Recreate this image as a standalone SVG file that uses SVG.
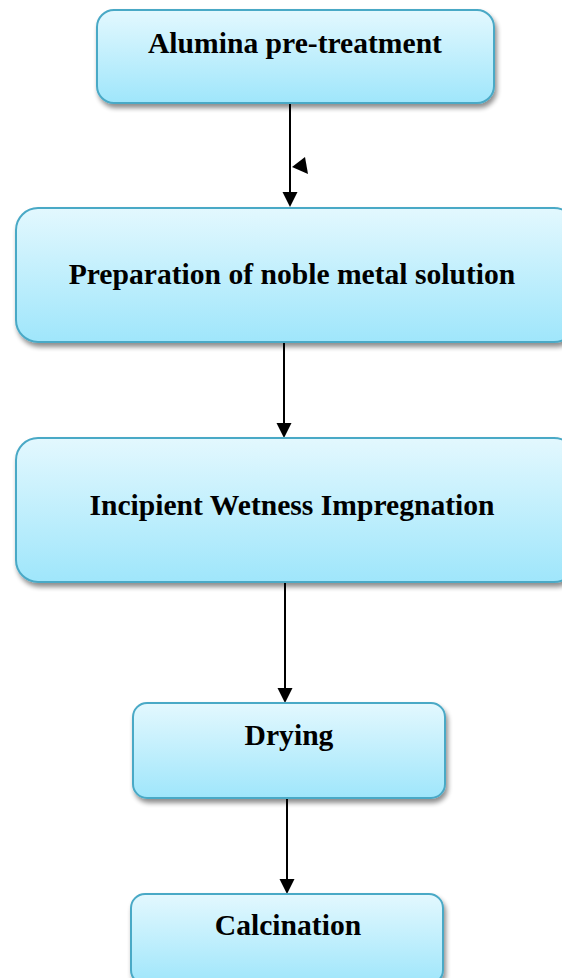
<svg xmlns="http://www.w3.org/2000/svg" width="562" height="978" viewBox="0 0 562 978">
<defs>
<linearGradient id="g" x1="0" y1="0" x2="0" y2="1">
<stop offset="0" stop-color="#e3f8fe"/>
<stop offset="1" stop-color="#9fe6fb"/>
</linearGradient>
<filter id="sh" x="-10%" y="-10%" width="125%" height="135%">
<feGaussianBlur in="SourceAlpha" stdDeviation="2.5"/>
<feOffset dx="2" dy="4" result="b"/>
<feComponentTransfer><feFuncA type="linear" slope="0.45"/></feComponentTransfer>
<feMerge><feMergeNode/><feMergeNode in="SourceGraphic"/></feMerge>
</filter>
<style>
.box{fill:url(#g);stroke:#4aa9c6;stroke-width:2;filter:url(#sh)}
.t{font-family:"Liberation Serif","Times New Roman",serif;font-weight:bold;font-size:29.6px;fill:#000;text-anchor:middle}
.c{stroke:#000;stroke-width:2;fill:none}
.h{fill:#000}
</style>
</defs>
<g id="connectors">
<line class="c" x1="290" y1="103" x2="290" y2="192"/>
<path class="h" d="M282.5,192 L297.5,192 L290,207 Z"/>
<path class="h" d="M292,167 L305,157 L308,174 Z"/>
<line class="c" x1="284" y1="342" x2="284" y2="423"/>
<path class="h" d="M276.5,423 L291.5,423 L284,438 Z"/>
<line class="c" x1="285" y1="582" x2="285" y2="688"/>
<path class="h" d="M277.5,688 L292.5,688 L285,703 Z"/>
<line class="c" x1="287" y1="798" x2="287" y2="879"/>
<path class="h" d="M279.5,879 L294.5,879 L287,894 Z"/>
</g>
<g id="n1">
<rect class="box" x="97" y="10" width="397" height="93" rx="17"/>
<text class="t" x="295" y="53">Alumina pre-treatment</text>
</g>
<g id="n2">
<rect class="box" x="16" y="208" width="560" height="134" rx="22"/>
<text class="t" x="292" y="284">Preparation of noble metal solution</text>
</g>
<g id="n3">
<rect class="box" x="16" y="438" width="560" height="144" rx="22"/>
<text class="t" x="292" y="515">Incipient Wetness Impregnation</text>
</g>
<g id="n4">
<rect class="box" x="133" y="703" width="312" height="95" rx="14"/>
<text class="t" x="289" y="745">Drying</text>
</g>
<g id="n5">
<rect class="box" x="131" y="894" width="312" height="90" rx="14"/>
<text class="t" x="288" y="935">Calcination</text>
</g>
</svg>
